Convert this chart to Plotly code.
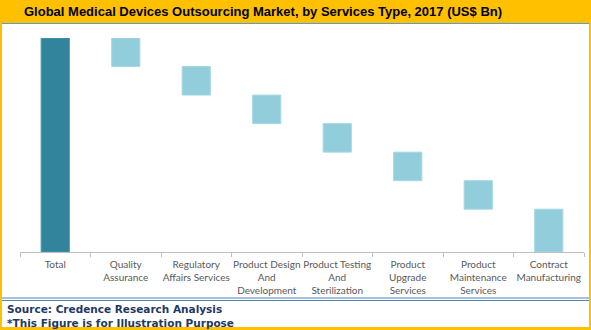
import plotly.graph_objects as go

W, H = 591, 330

categories = [
    "Total",
    "Quality<br>Assurance",
    "Regulatory<br>Affairs Services",
    "Product Design<br>And<br>Development",
    "Product Testing<br>And<br>Sterilization",
    "Product<br>Upgrade<br>Services",
    "Product<br>Maintenance<br>Services",
    "Contract<br>Manufacturing",
]
values = [15, -2, -2, -2, -2, -2, -2, -3]
measures = ["absolute"] + ["relative"] * 7

title_text = "Global Medical Devices Outsourcing Market, by Services Type, 2017 (US$ Bn)"
source_lines = ["Source: Credence Research Analysis", "*This Figure is for Illustration Purpose"]

ORANGE = "#FFC000"
TEAL = "#31849B"
LIGHT = "#92CDDC"
NAVY = "#1F3864"


def px(x):
    return x / W


def py(y):
    return 1 - y / H


fig = go.Figure(
    go.Waterfall(
        x=categories,
        y=values,
        measure=measures,
        width=0.4,
        totals=dict(marker=dict(color=TEAL, line=dict(color="#4A97AC", width=1))),
        decreasing=dict(marker=dict(color=LIGHT, line=dict(color="#A6D8E4", width=1))),
        increasing=dict(marker=dict(color=LIGHT)),
        connector=dict(visible=False),
        hoverinfo="skip",
    )
)

shapes = [
    # orange title band and frame
    dict(type="rect", x0=0, x1=1, y0=py(23), y1=1, fillcolor=ORANGE, line_width=0),
    dict(type="rect", x0=0, x1=px(2), y0=0, y1=1, fillcolor=ORANGE, line_width=0),
    dict(type="rect", x0=px(589), x1=1, y0=0, y1=1, fillcolor=ORANGE, line_width=0),
    dict(type="rect", x0=0, x1=1, y0=0, y1=py(327), fillcolor=ORANGE, line_width=0),
    # blue rule under the title band
    dict(type="line", x0=px(2), x1=px(589), y0=py(23.5), y1=py(23.5),
         line=dict(color="#5B9BD5", width=1.2)),
    # double rule above the source notes
    dict(type="line", x0=px(2), x1=px(589), y0=py(298), y1=py(298),
         line=dict(color="#4F81BD", width=1.2)),
    dict(type="line", x0=px(2), x1=px(589), y0=py(300.5), y1=py(300.5),
         line=dict(color="#4F81BD", width=1.2)),
]
for s in shapes:
    s.update(xref="paper", yref="paper", layer="below")

annotations = [
    dict(text="<b>" + title_text + "</b>", x=px(263), y=py(11.5), xanchor="center",
         yanchor="middle", showarrow=False,
         font=dict(family="Liberation Sans", size=13, color="#000000")),
    dict(text="<b>" + source_lines[0] + "</b><br><b>" + source_lines[1] + "</b>",
         x=px(5), y=py(316), xanchor="left", yanchor="middle", align="left",
         showarrow=False,
         font=dict(family="DejaVu Sans", size=10.5, color=NAVY)),
]
for a in annotations:
    a.update(xref="paper", yref="paper")

fig.update_layout(
    width=W,
    height=H,
    margin=dict(l=0, r=0, t=0, b=0),
    paper_bgcolor="white",
    plot_bgcolor="white",
    showlegend=False,
    shapes=shapes,
    annotations=annotations,
    xaxis=dict(
        domain=[px(20), px(584)],
        showline=True,
        linecolor="#BFBFBF",
        linewidth=1,
        ticks="outside",
        tickson="boundaries",
        ticklen=4,
        tickcolor="#BFBFBF",
        tickangle=0,
        ticklabelstandoff=3,
        showgrid=False,
        automargin=False,
        tickfont=dict(family="Lato", size=10, color="#595959"),
    ),
    yaxis=dict(
        domain=[py(252), py(38)],
        range=[0, 15],
        visible=False,
        automargin=False,
    ),
)

fig.write_html("out.html")
